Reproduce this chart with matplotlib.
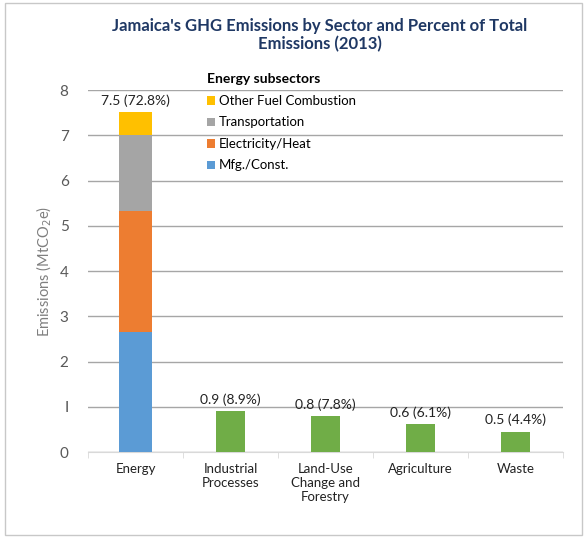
import numpy as np
import matplotlib.pyplot as plt
from matplotlib.patches import Rectangle

# donnees
sectors = ["Energy", "Industrial\nProcesses", "Land-Use\nChange and\nForestry", "Agriculture", "Waste"]
subsectors = ["Mfg./Const.", "Electricity/Heat", "Transportation", "Other Fuel Combustion"]
energy_parts = [2.65, 2.68, 1.67, 0.51]
other_values = [0.91, 0.80, 0.62, 0.45]
bar_labels = ["7.5 (72.8%)", "0.9 (8.9%)", "0.8 (7.8%)", "0.6 (6.1%)", "0.5 (4.4%)"]

sub_colors = ["#5B9BD5", "#ED7D31", "#A5A5A5", "#FFC000"]
green = "#70AD47"

plt.rcParams['font.family'] = ['Lato', 'DejaVu Sans']

fig = plt.figure(figsize=(5.87, 5.37), dpi=100)
fig.patches.append(Rectangle((0.008, 0.004), 0.984, 0.99, transform=fig.transFigure,
                             fill=False, edgecolor="#C8C8C8", lw=1))
ax = fig.add_axes([0.15, 0.158, 0.809, 0.674])

x = np.arange(len(sectors))

# barre empilee energie
bottom = 0
for val, col, name in zip(energy_parts, sub_colors, subsectors):
    ax.bar(x[0], val, 0.35, bottom=bottom, color=col, label=name, zorder=3)
    bottom += val

# autres secteurs
ax.bar(x[1:], other_values, 0.31, color=green, zorder=3)

totals = [sum(energy_parts)] + other_values
for xi, t, lab in zip(x, totals, bar_labels):
    ax.text(xi, t + 0.12, lab, ha="center", va="bottom", fontsize=10, color="#222222")

ax.set_xlim(-0.5, len(sectors) - 0.5)
ax.set_ylim(0, 8)
ax.set_yticks(range(0, 9))
ax.set_yticklabels([str(i) if i != 1 else "I" for i in range(0, 9)])
ax.yaxis.grid(True, color="#A6A6A6", lw=1, zorder=0)
ax.tick_params(axis="y", length=0, labelsize=11, colors="#595959", pad=14)

ax.set_xticks(x)
ax.set_xticklabels(sectors, fontsize=9.5, color="#222222")
ax.set_xticks(np.arange(-0.5, len(sectors)), minor=True)
ax.tick_params(axis="x", which="major", length=0, pad=8)
ax.tick_params(axis="x", which="minor", length=4, color="#D9D9D9")

for s in ["left", "right", "top"]:
    ax.spines[s].set_visible(False)
ax.spines["bottom"].set_color("#D9D9D9")

ax.set_ylabel("Emissions (MtCO$_2$e)", fontsize=10.5, color="#7F7F7F", labelpad=4)

handles, labels = ax.get_legend_handles_labels()
leg = ax.legend(handles[::-1], labels[::-1], title="Energy subsectors", loc="upper left",
                bbox_to_anchor=(0.225, 1.079), frameon=False, fontsize=9.5,
                handlelength=0.6, handleheight=0.6, handletextpad=0.3,
                labelspacing=0.72, alignment="left")
leg.get_title().set_fontweight("bold")
leg.get_title().set_fontsize(10)

fig.text(0.545, 0.935, "Jamaica's GHG Emissions by Sector and Percent of Total\nEmissions (2013)",
         ha="center", va="center", fontsize=12, fontweight="bold", color="#1F3864",
         linespacing=1.15)

plt.savefig("out.png", dpi=100)
